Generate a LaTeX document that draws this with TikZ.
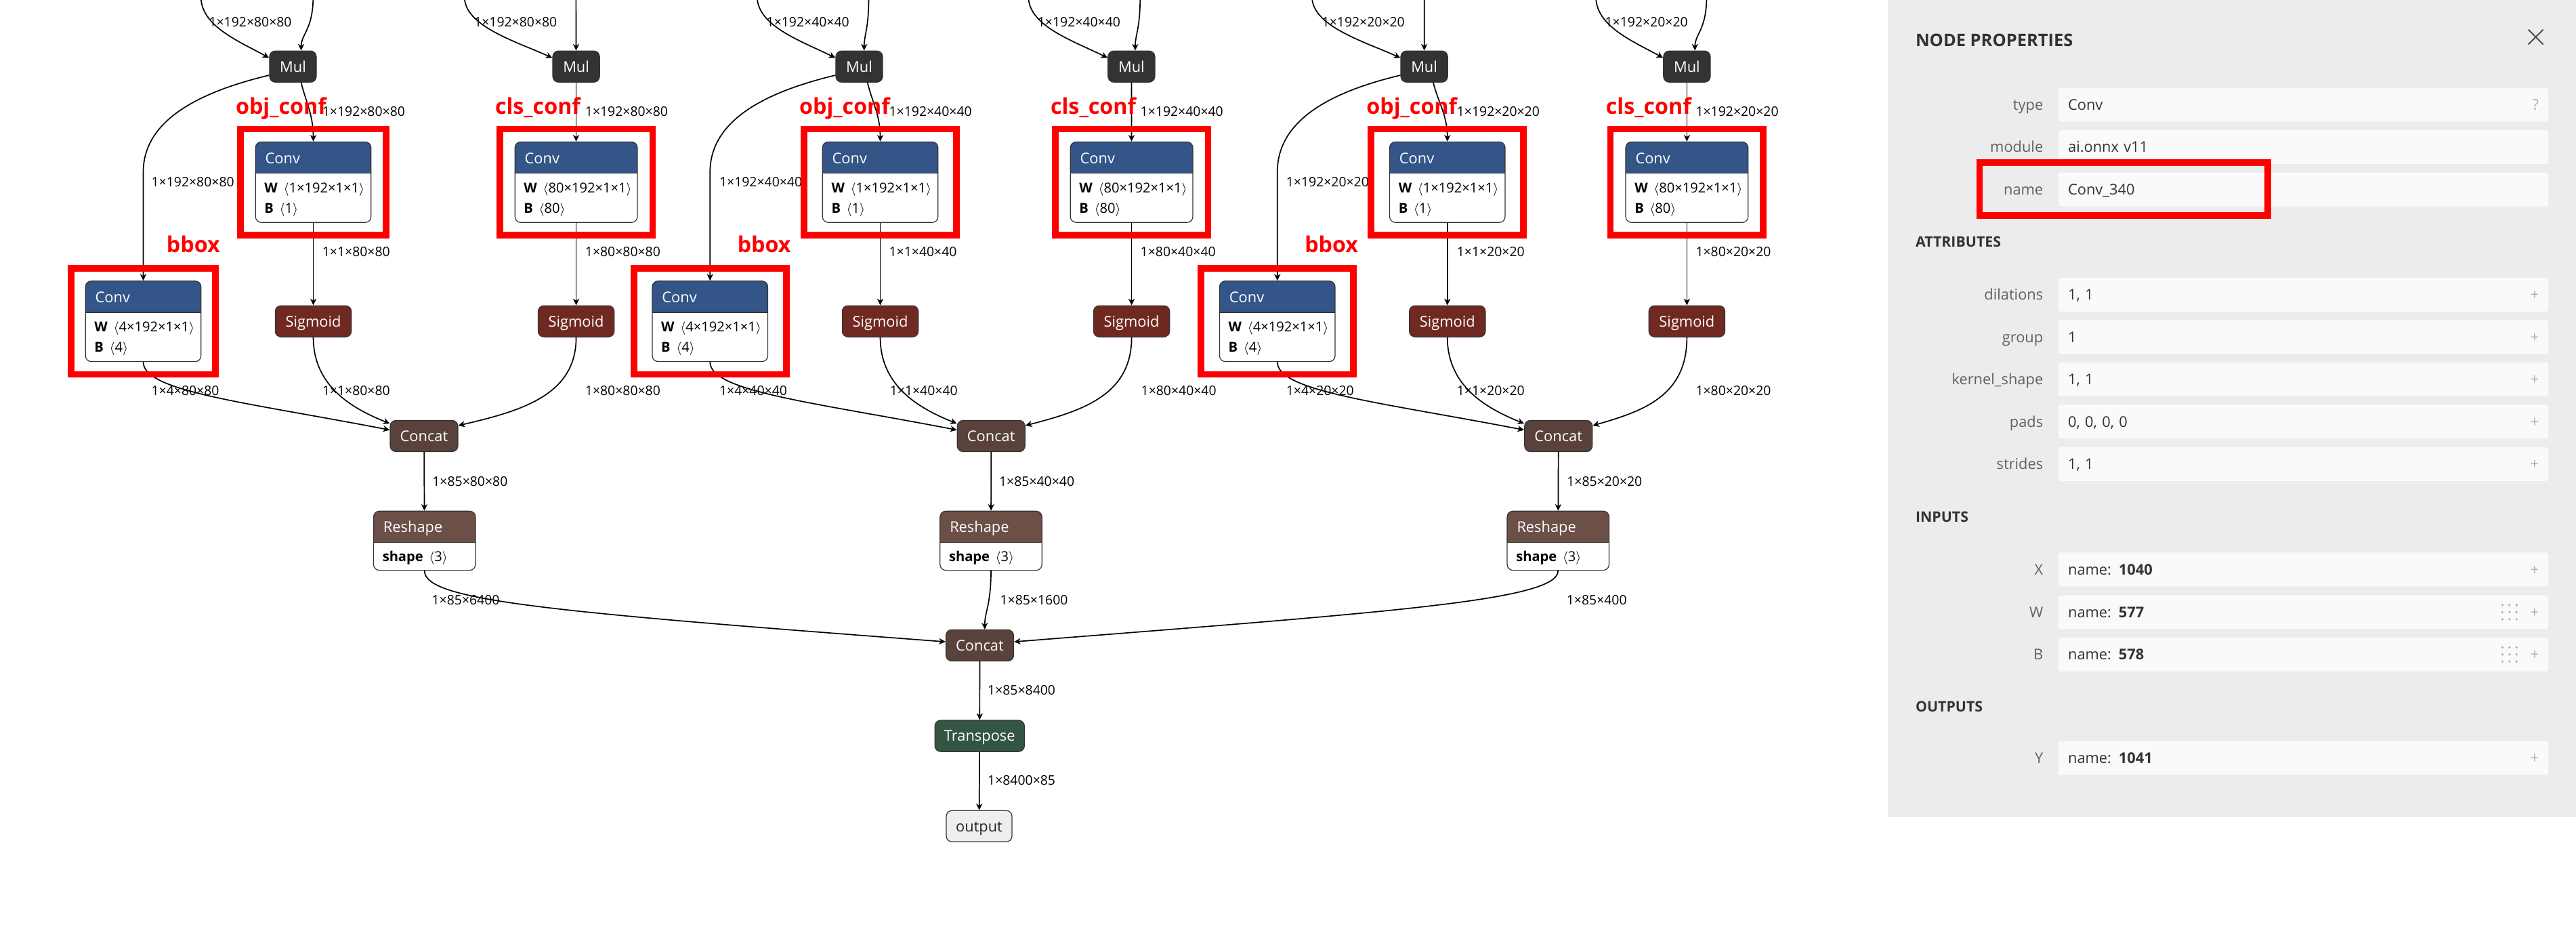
\documentclass[tikz,border=0pt]{standalone}
\usepackage{fontspec}
\setmainfont{Open Sans}
\usetikzlibrary{arrows.meta,positioning,fit,calc}
\definecolor{nxInk}{RGB}{51,51,51}
\definecolor{nxLayer}{RGB}{51,85,136}
\definecolor{nxAct}{RGB}{112,41,33}
\definecolor{nxTensor}{RGB}{89,66,59}
\definecolor{nxShape}{RGB}{108,79,71}
\definecolor{nxTrans}{RGB}{51,85,68}
\definecolor{nxOut}{RGB}{238,238,238}
\definecolor{nxPanel}{RGB}{236,236,236}
\definecolor{nxField}{RGB}{250,250,250}
\definecolor{nxIcon}{RGB}{175,175,175}
\definecolor{nxMark}{RGB}{255,0,0}
\tikzset{
  nxop/.style={draw=nxInk, line width=.5pt, rounded corners=3.5pt,
    minimum height=19pt, inner sep=0pt, text=white, text height=6.5pt,
    text depth=0pt, font=\fontsize{9}{10}\selectfont},
  nxmul/.style={nxop, fill=nxInk, minimum width=28.5pt},
  nxsig/.style={nxop, fill=nxAct, minimum width=46.3pt},
  nxcat/.style={nxop, fill=nxTensor, minimum width=41.2pt},
  nxblock/.style={draw=nxInk, line width=.5pt, rounded corners=3.5pt,
    fill=white, inner sep=0pt,
    path picture={
      \fill[#1, sharp corners] (path picture bounding box.north west)
        rectangle ([yshift=-19pt]path picture bounding box.north east);
      \draw[nxInk, line width=.7pt, sharp corners]
        ([yshift=-19pt]path picture bounding box.north west) --
        ([yshift=-19pt]path picture bounding box.north east);}},
  nxconv/.style={nxblock=nxLayer, minimum height=49pt, minimum width=#1},
  nxshape/.style={nxblock=nxShape, minimum height=36pt, minimum width=62pt},
  nxhead/.style={anchor=base west, xshift=6pt, yshift=-13.3pt, inner sep=0pt,
    text=white, font=\fontsize{9}{10}\selectfont},
  nxrowa/.style={anchor=base west, xshift=5.5pt, yshift=-31pt, inner sep=0pt,
    text=black, font=\fontsize{8.3}{9}\selectfont},
  nxrowb/.style={nxrowa, yshift=-12.4pt},
  nxlab/.style={anchor=west, inner sep=0pt, text=black, text height=5.8pt,
    text depth=0pt, font=\fontsize{8}{9}\selectfont},
  nxedge/.style={-{Stealth[length=4pt, width=3.8pt, inset=1.2pt]},
    line width=.7pt, draw=black},
  nxmark/.style={draw=nxMark, line width=4pt, inner xsep=#1, inner ysep=7.5pt},
  nxmark/.default=10pt,
  nxtag/.style={text=nxMark, inner sep=0pt,
    font=\bfseries\fontsize{13.3}{14}\selectfont}
}
\begin{document}
\begin{tikzpicture}[x=1pt, y=-1pt,
  ptitle/.style={anchor=west, inner sep=0pt, text=black!80,
    font=\bfseries\fontsize{10.5}{12}\selectfont},
  psect/.style={anchor=west, inner sep=0pt, text=black!80,
    font=\bfseries\fontsize{8.8}{10}\selectfont},
  pfield/.style={fill=nxField, rounded corners=1.5pt, minimum width=298.3pt,
    minimum height=20.6pt, text width=286.5pt, inner xsep=5.9pt,
    inner ysep=0pt, align=left, text=black!80, text height=6.5pt,
    text depth=0pt, font=\fontsize{9}{10}\selectfont},
  pkey/.style={inner sep=0pt, text=black!62, text height=6.5pt,
    text depth=0pt, font=\fontsize{9}{10}\selectfont}
]
\path[fill=white, use as bounding box] (0,0) rectangle (1568,565);

% scale 80
\node[nxmul] (m1a) at (178.3,40.5) {Mul};
\node[nxmul] (m1b) at (350.7,40.5) {Mul};
\node[nxconv=70.3pt] (c1o) at (190.7,110.85) {};
\node[nxhead] (c1o-h) at (c1o.north west) {Conv};
\node[nxrowa] (c1o-w) at (c1o.north west) {\textbf{W} \,$\langle$1×192×1×1$\rangle$};
\node[nxrowb] (c1o-b) at (c1o.north west) {\textbf{B} \,$\langle$1$\rangle$};
\node[nxconv=74.5pt] (c1c) at (350.7,110.85) {};
\node[nxhead] (c1c-h) at (c1c.north west) {Conv};
\node[nxrowa] (c1c-w) at (c1c.north west) {\textbf{W} \,$\langle$80×192×1×1$\rangle$};
\node[nxrowb] (c1c-b) at (c1c.north west) {\textbf{B} \,$\langle$80$\rangle$};
\node[nxconv=70.3pt] (c1b) at (87.2,195.5) {};
\node[nxhead] (c1b-h) at (c1b.north west) {Conv};
\node[nxrowa] (c1b-w) at (c1b.north west) {\textbf{W} \,$\langle$4×192×1×1$\rangle$};
\node[nxrowb] (c1b-b) at (c1b.north west) {\textbf{B} \,$\langle$4$\rangle$};
\node[nxsig] (s1o) at (190.7,195.5) {Sigmoid};
\node[nxsig] (s1c) at (350.7,195.5) {Sigmoid};
\node[nxcat] (k1) at (258.1,265.3) {Concat};
\node[nxshape] (r1) at (258.4,329) {};
\node[nxhead] (r1-h) at (r1.north west) {Reshape};
\node[nxrowa] (r1-s) at (r1.north west) {\textbf{shape} \,$\langle$3$\rangle$};

% scale 40
\node[nxmul] (m2a) at (523,40.5) {Mul};
\node[nxmul] (m2b) at (688.7,40.5) {Mul};
\node[nxconv=70.3pt] (c2o) at (535.8,110.85) {};
\node[nxhead] (c2o-h) at (c2o.north west) {Conv};
\node[nxrowa] (c2o-w) at (c2o.north west) {\textbf{W} \,$\langle$1×192×1×1$\rangle$};
\node[nxrowb] (c2o-b) at (c2o.north west) {\textbf{B} \,$\langle$1$\rangle$};
\node[nxconv=74.5pt] (c2c) at (688.8,110.85) {};
\node[nxhead] (c2c-h) at (c2c.north west) {Conv};
\node[nxrowa] (c2c-w) at (c2c.north west) {\textbf{W} \,$\langle$80×192×1×1$\rangle$};
\node[nxrowb] (c2c-b) at (c2c.north west) {\textbf{B} \,$\langle$80$\rangle$};
\node[nxconv=70.3pt] (c2b) at (432.2,195.5) {};
\node[nxhead] (c2b-h) at (c2b.north west) {Conv};
\node[nxrowa] (c2b-w) at (c2b.north west) {\textbf{W} \,$\langle$4×192×1×1$\rangle$};
\node[nxrowb] (c2b-b) at (c2b.north west) {\textbf{B} \,$\langle$4$\rangle$};
\node[nxsig] (s2o) at (535.8,195.5) {Sigmoid};
\node[nxsig] (s2c) at (688.8,195.5) {Sigmoid};
\node[nxcat] (k2) at (603.3,265.3) {Concat};
\node[nxshape] (r2) at (603.2,329) {};
\node[nxhead] (r2-h) at (r2.north west) {Reshape};
\node[nxrowa] (r2-s) at (r2.north west) {\textbf{shape} \,$\langle$3$\rangle$};

% scale 20
\node[nxmul] (m3a) at (866.9,40.5) {Mul};
\node[nxmul] (m3b) at (1026.8,40.5) {Mul};
\node[nxconv=70.3pt] (c3o) at (881,110.85) {};
\node[nxhead] (c3o-h) at (c3o.north west) {Conv};
\node[nxrowa] (c3o-w) at (c3o.north west) {\textbf{W} \,$\langle$1×192×1×1$\rangle$};
\node[nxrowb] (c3o-b) at (c3o.north west) {\textbf{B} \,$\langle$1$\rangle$};
\node[nxconv=74.5pt] (c3c) at (1026.8,110.85) {};
\node[nxhead] (c3c-h) at (c3c.north west) {Conv};
\node[nxrowa] (c3c-w) at (c3c.north west) {\textbf{W} \,$\langle$80×192×1×1$\rangle$};
\node[nxrowb] (c3c-b) at (c3c.north west) {\textbf{B} \,$\langle$80$\rangle$};
\node[nxconv=70.3pt] (c3b) at (777.5,195.5) {};
\node[nxhead] (c3b-h) at (c3b.north west) {Conv};
\node[nxrowa] (c3b-w) at (c3b.north west) {\textbf{W} \,$\langle$4×192×1×1$\rangle$};
\node[nxrowb] (c3b-b) at (c3b.north west) {\textbf{B} \,$\langle$4$\rangle$};
\node[nxsig] (s3o) at (881,195.5) {Sigmoid};
\node[nxsig] (s3c) at (1026.8,195.5) {Sigmoid};
\node[nxcat] (k3) at (948.6,265.3) {Concat};
\node[nxshape] (r3) at (948.4,329) {};
\node[nxhead] (r3-h) at (r3.north west) {Reshape};
\node[nxrowa] (r3-s) at (r3.north west) {\textbf{shape} \,$\langle$3$\rangle$};

\node[nxcat] (kf) at (596.4,392.7) {Concat};
\node[nxop, fill=nxTrans, minimum width=54.5pt] (tp) at (596.3,447.8) {Transpose};
\node[nxop, fill=nxOut, text=black!85, minimum width=40pt] (out) at (596,502.7) {output};

\coordinate (i1a) at (122.3,-2);  \coordinate (j1a) at (190.6,-2);
\coordinate (i1b) at (282.7,-2);  \coordinate (j1b) at (350.6,-2);
\coordinate (i2a) at (460.9,-2);  \coordinate (j2a) at (528.8,-2);
\coordinate (i2b) at (626,-2);    \coordinate (j2b) at (694,-2);
\coordinate (i3a) at (798.6,-2);  \coordinate (j3a) at (867,-2);
\coordinate (i3b) at (971.4,-2);  \coordinate (j3b) at (1038.8,-2);

\draw[nxedge] (i1a) .. controls +(0,18) and +(-18,-10) .. (m1a.160);
\draw[nxedge] (j1a) .. controls +(0,20) and +(0,-10) .. ($(m1a.north)+(5,0)$);
\draw[nxedge] (i1b) .. controls +(0,18) and +(-22,-10) .. (m1b.160);
\draw[nxedge] (j1b) -- (m1b);
\draw[nxedge] (m1a.200) .. controls +(-46,11) and +(0,-30) .. ($(c1b.north)+(0,-66)$) -- (c1b.north);
\draw[nxedge] ($(m1a.south)+(5,0)$) .. controls +(3,12) and +(0,-16) .. (c1o.north);
\draw[nxedge] (m1b) -- (c1c);
\draw[nxedge] (c1o) -- (s1o);
\draw[nxedge] (c1c) -- (s1c);
\draw[nxedge] (c1b.south) .. controls +(0,18) and +(-88,-17) .. (k1.170);
\draw[nxedge] (s1o.south) .. controls +(0,30) and +(-22.5,-9) .. (k1.160);
\draw[nxedge] (s1c.south) .. controls +(0,35) and +(39,-9) .. (k1.17);
\draw[nxedge] (k1) -- (r1);

\draw[nxedge] (i2a) .. controls +(0,18) and +(-20,-10) .. (m2a.160);
\draw[nxedge] (j2a) .. controls +(0,20) and +(0,-10) .. ($(m2a.north)+(3,0)$);
\draw[nxedge] (i2b) .. controls +(0,18) and +(-20,-10) .. (m2b.160);
\draw[nxedge] (j2b) .. controls +(0,20) and +(0,-10) .. ($(m2b.north)+(2.3,0)$);
\draw[nxedge] (m2a.200) .. controls +(-46,11) and +(0,-30) .. ($(c2b.north)+(0,-66)$) -- (c2b.north);
\draw[nxedge] ($(m2a.south)+(5,0)$) .. controls +(3,12) and +(0,-16) .. (c2o.north);
\draw[nxedge] (m2b) -- (c2c);
\draw[nxedge] (c2o) -- (s2o);
\draw[nxedge] (c2c) -- (s2c);
\draw[nxedge] (c2b.south) .. controls +(0,18) and +(-88,-17) .. (k2.170);
\draw[nxedge] (s2o.south) .. controls +(0,30) and +(-22.5,-9) .. (k2.160);
\draw[nxedge] (s2c.south) .. controls +(0,35) and +(35,-9) .. (k2.17);
\draw[nxedge] (k2) -- (r2);

\draw[nxedge] (i3a) .. controls +(0,18) and +(-22,-10) .. (m3a.160);
\draw[nxedge] (j3a) -- (m3a);
\draw[nxedge] (i3b) .. controls +(0,18) and +(-18,-10) .. (m3b.160);
\draw[nxedge] (j3b) .. controls +(0,20) and +(0,-10) .. ($(m3b.north)+(4.9,0)$);
\draw[nxedge] (m3a.200) .. controls +(-46,11) and +(0,-30) .. ($(c3b.north)+(0,-66)$) -- (c3b.north);
\draw[nxedge] ($(m3a.south)+(5.5,0)$) .. controls +(3,12) and +(0,-16) .. (c3o.north);
\draw[nxedge] (m3b) -- (c3c);
\draw[nxedge] (c3o) -- (s3o);
\draw[nxedge] (c3c) -- (s3c);
\draw[nxedge] (c3b.south) .. controls +(0,18) and +(-88,-17) .. (k3.170);
\draw[nxedge] (s3o.south) .. controls +(0,30) and +(-22.5,-9) .. (k3.160);
\draw[nxedge] (s3c.south) .. controls +(0,35) and +(32,-9) .. (k3.17);
\draw[nxedge] (k3) -- (r3);

\draw[nxedge] (r1.south) .. controls +(0,18) and +(-246,-18.6) .. (kf.174);
\draw[nxedge] (r2.south) .. controls +(0,21) and +(0,-11) .. ($(kf.north)+(3,0)$);
\draw[nxedge] (r3.south) .. controls +(0,18) and +(233,-18.4) .. (kf.6);
\draw[nxedge] (kf) -- (tp);
\draw[nxedge] (tp) -- (out);

\node[nxlab] (l1a) at (127,13.3) {1×192×80×80};
\node[nxlab] (l1b) at (288.5,13.3) {1×192×80×80};
\node[nxlab] (l1ob) at (92,110.5) {1×192×80×80};
\node[nxlab] (l1oo) at (196,68) {1×192×80×80};
\node[nxlab] (l1cc) at (356,68) {1×192×80×80};
\node[nxlab] (l1os) at (196,153) {1×1×80×80};
\node[nxlab] (l1cs) at (356,153) {1×80×80×80};
\node[nxlab] (l1kb) at (92,237.8) {1×4×80×80};
\node[nxlab] (l1ko) at (196,237.8) {1×1×80×80};
\node[nxlab] (l1kc) at (356,237.8) {1×80×80×80};
\node[nxlab] (l1r) at (263,292.8) {1×85×80×80};
\node[nxlab] (l1f) at (262.7,364.9) {1×85×6400};

\node[nxlab] (l2a) at (466.4,13.3) {1×192×40×40};
\node[nxlab] (l2b) at (631.4,13.3) {1×192×40×40};
\node[nxlab] (l2ob) at (437.7,110.5) {1×192×40×40};
\node[nxlab] (l2oo) at (541,68) {1×192×40×40};
\node[nxlab] (l2cc) at (694,68) {1×192×40×40};
\node[nxlab] (l2os) at (541,153) {1×1×40×40};
\node[nxlab] (l2cs) at (694,153) {1×80×40×40};
\node[nxlab] (l2kb) at (437.7,237.8) {1×4×40×40};
\node[nxlab] (l2ko) at (541.5,237.8) {1×1×40×40};
\node[nxlab] (l2kc) at (694.4,237.8) {1×80×40×40};
\node[nxlab] (l2r) at (608,292.8) {1×85×40×40};
\node[nxlab] (l2f) at (608.6,364.9) {1×85×1600};

\node[nxlab] (l3a) at (804.5,13.3) {1×192×20×20};
\node[nxlab] (l3b) at (976.8,13.3) {1×192×20×20};
\node[nxlab] (l3ob) at (782.7,110.5) {1×192×20×20};
\node[nxlab] (l3oo) at (886.6,68) {1×192×20×20};
\node[nxlab] (l3cc) at (1032,68) {1×192×20×20};
\node[nxlab] (l3os) at (886.6,153) {1×1×20×20};
\node[nxlab] (l3cs) at (1032,153) {1×80×20×20};
\node[nxlab] (l3kb) at (782.7,237.8) {1×4×20×20};
\node[nxlab] (l3ko) at (886.6,237.8) {1×1×20×20};
\node[nxlab] (l3kc) at (1032,237.8) {1×80×20×20};
\node[nxlab] (l3r) at (953.6,292.8) {1×85×20×20};
\node[nxlab] (l3f) at (953.4,364.9) {1×85×400};

\node[nxlab] (lf1) at (601,420) {1×85×8400};
\node[nxlab] (lf2) at (601,474.8) {1×8400×85};

% annotations
\node[nxmark=9pt, fit=(c1o)] (x1o) {};
\node[nxmark=9pt, fit=(c1c)] (x1c) {};
\node[nxmark=8.5pt, fit=(c1b)] (x1b) {};
\node[nxmark=11pt, fit=(c2o)] (x2o) {};
\node[nxmark=9pt, fit=(c2c)] (x2c) {};
\node[nxmark=11pt, fit=(c2b)] (x2b) {};
\node[nxmark=11pt, fit=(c3o)] (x3o) {};
\node[nxmark=9pt, fit=(c3c)] (x3c) {};
\node[nxmark=11pt, fit=(c3b)] (x3b) {};
\node[nxtag, anchor=base west] (t1o) at ([xshift=-1pt,yshift=7pt]x1o.north west) {obj\_conf};
\node[nxtag, anchor=base west] (t1c) at ([xshift=-1pt,yshift=7pt]x1c.north west) {cls\_conf};
\node[nxtag, anchor=base east] (t1b) at ([xshift=1pt,yshift=7.5pt]x1b.north east) {bbox};
\node[nxtag, anchor=base west] (t2o) at ([xshift=-1pt,yshift=7pt]x2o.north west) {obj\_conf};
\node[nxtag, anchor=base west] (t2c) at ([xshift=-1pt,yshift=7pt]x2c.north west) {cls\_conf};
\node[nxtag, anchor=base east] (t2b) at ([xshift=1pt,yshift=7.5pt]x2b.north east) {bbox};
\node[nxtag, anchor=base west] (t3o) at ([xshift=-1pt,yshift=7pt]x3o.north west) {obj\_conf};
\node[nxtag, anchor=base west] (t3c) at ([xshift=-1pt,yshift=7pt]x3c.north west) {cls\_conf};
\node[nxtag, anchor=base east] (t3b) at ([xshift=1pt,yshift=7.5pt]x3b.north east) {bbox};

% properties panel
\fill[nxPanel] (1149,0) rectangle (1568,497.4);
\node[ptitle] (p-title) at (1165.8,24.5) {NODE PROPERTIES};
\draw[black!70, line width=.8pt] (1539,18) -- (1548,27) (1548,18) -- (1539,27);
\node[pfield] (f-type) at (1402.05,63.7) {Conv\hfill{\color{nxIcon}?}};
\node[pkey, left=8.9pt of f-type] (k-type) {type};
\node[pfield] (f-module) at (1402.05,89.5) {ai.onnx v11};
\node[pkey, left=8.9pt of f-module] (k-module) {module};
\node[pfield] (f-name) at (1402.05,115.3) {Conv\_340};
\node[pkey, left=8.9pt of f-name] (k-name) {name};
\node[psect] (p-attr) at (1165.8,147.3) {ATTRIBUTES};
\node[pfield] (f-dil) at (1402.05,179.3) {1, 1\hfill{\color{nxIcon}+}};
\node[pkey, left=8.9pt of f-dil] (k-dil) {dilations};
\node[pfield] (f-group) at (1402.05,205.1) {1\hfill{\color{nxIcon}+}};
\node[pkey, left=8.9pt of f-group] (k-group) {group};
\node[pfield] (f-kernel) at (1402.05,230.8) {1, 1\hfill{\color{nxIcon}+}};
\node[pkey, left=8.9pt of f-kernel] (k-kernel) {kernel\_shape};
\node[pfield] (f-pads) at (1402.05,256.6) {0, 0, 0, 0\hfill{\color{nxIcon}+}};
\node[pkey, left=8.9pt of f-pads] (k-pads) {pads};
\node[pfield] (f-strides) at (1402.05,282.4) {1, 1\hfill{\color{nxIcon}+}};
\node[pkey, left=8.9pt of f-strides] (k-strides) {strides};
\node[psect] (p-in) at (1165.8,314.5) {INPUTS};
\node[pfield] (f-x) at (1402.05,346.5) {name: \textbf{1040}\hfill{\color{nxIcon}+}};
\node[pkey, left=8.9pt of f-x] (k-x) {X};
\node[pfield] (f-w) at (1402.05,372.5) {name: \textbf{577}\hfill{\color{nxIcon}+}};
\node[pkey, left=8.9pt of f-w] (k-w) {W};
\node[pfield] (f-b) at (1402.05,398.2) {name: \textbf{578}\hfill{\color{nxIcon}+}};
\node[pkey, left=8.9pt of f-b] (k-b) {B};
\node[psect] (p-out) at (1165.8,430) {OUTPUTS};
\node[pfield] (f-y) at (1402.05,461.2) {name: \textbf{1041}\hfill{\color{nxIcon}+}};
\node[pkey, left=8.9pt of f-y] (k-y) {Y};
\foreach \gy in {372.5,398.2}
  \foreach \dx in {0,4.3,8.6}
    \foreach \dy in {-4.3,0,4.3}
      \fill[nxIcon] (1523.2+\dx,\gy+\dy) circle (.75pt);
\draw[nxMark, line width=4pt] (1205,99) rectangle (1380.5,131);
\end{tikzpicture}
\end{document}
